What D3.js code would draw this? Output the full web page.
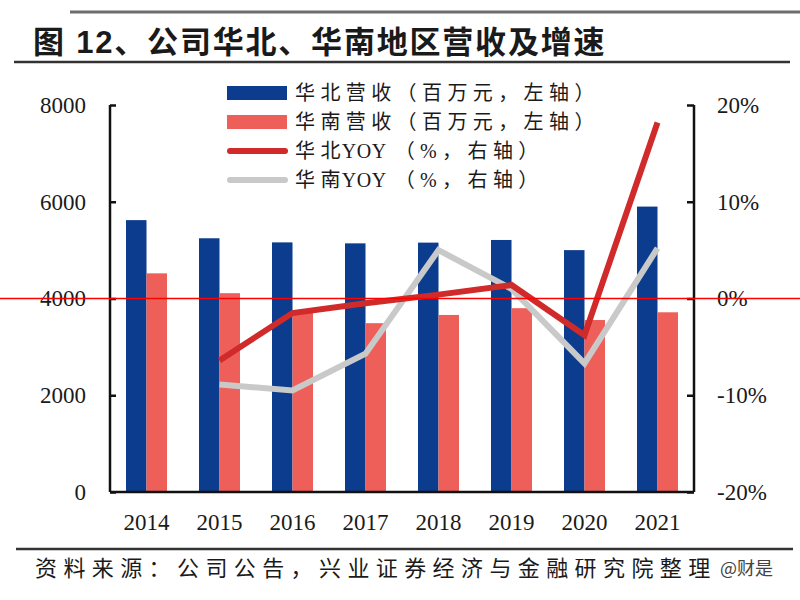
<!DOCTYPE html>
<html>
<head>
<meta charset="utf-8">
<script src="https://cdn.jsdelivr.net/npm/d3@7"></script>
<style>
  html, body { margin: 0; padding: 0; background: #fff; }
  svg { display: block; }
</style>
</head>
<body>
<svg id="chart" width="800" height="600"></svg>
<script>
// ---- data ----
const years = ["2014", "2015", "2016", "2017", "2018", "2019", "2020", "2021"];
const northRevenue = [5620, 5245, 5160, 5140, 5155, 5210, 5000, 5900];
const southRevenue = [4520, 4110, 3700, 3490, 3660, 3800, 3555, 3715];
const northYoY = [null, -6.4, -1.5, -0.5, 0.4, 1.4, -3.8, 18.2];
const southYoY = [null, -8.9, -9.5, -5.7, 5.0, 1.0, -6.7, 5.2];
const leftTicks = [0, 2000, 4000, 6000, 8000];
const rightTicks = [-20, -10, 0, 10, 20];
// legend labels split into [CJK prefix, latin part, CJK suffix]
const seriesNames = [
  ["华北营收", "", "（百万元，左轴）"],
  ["华南营收", "", "（百万元，左轴）"],
  ["华北", "YOY", "（%，右轴）"],
  ["华南", "YOY", "（%，右轴）"]
];
const titleText = "图 12、公司华北、华南地区营收及增速";
const sourceText = "资料来源：公司公告，兴业证券经济与金融研究院整理";
const watermarkText = "@财是";

// ---- styles ----
const C_BLUE = "#0b3c8d";
const C_SALMON = "#ee5f5a";
const C_RED = "#d02a2b";
const C_GRAY = "#c9c9c9";
const SERIF = "'Liberation Serif', 'Times New Roman', 'Noto Sans CJK SC', serif";
const CJK = "'Noto Sans CJK SC', sans-serif";

const svg = d3.select("#chart");

// header rules and title
svg.append("line").attr("x1", 70).attr("x2", 800).attr("y1", 12).attr("y2", 12)
  .attr("stroke", "#6d6d6d").attr("stroke-width", 3);
svg.append("line").attr("x1", 14).attr("x2", 790).attr("y1", 62).attr("y2", 62)
  .attr("stroke", "#333").attr("stroke-width", 2.5);
svg.append("text").attr("x", 33).attr("y", 53)
  .attr("font-family", "'Liberation Sans', 'Noto Sans CJK SC', sans-serif")
  .attr("font-weight", "bold").attr("font-size", 31).attr("letter-spacing", 1.8)
  .attr("fill", "#1a1a1a").text(titleText);

// plot area
const L = 110, R = 694, T = 105, B = 492;

const x = d3.scaleBand().domain(years).range([L, R]).paddingInner(0).paddingOuter(0);
const yL = d3.scaleLinear().domain([0, 8000]).range([B, T]);
const yR = d3.scaleLinear().domain([-20, 20]).range([B, T]);
const barW = 20.5;

// bars
const g = svg.append("g");
g.selectAll("rect.north").data(years).join("rect")
  .attr("class", "north")
  .attr("x", d => x(d) + x.bandwidth() / 2 - barW)
  .attr("y", (d, i) => yL(northRevenue[i]))
  .attr("width", barW)
  .attr("height", (d, i) => B - yL(northRevenue[i]))
  .attr("fill", C_BLUE);
g.selectAll("rect.south").data(years).join("rect")
  .attr("class", "south")
  .attr("x", d => x(d) + x.bandwidth() / 2)
  .attr("y", (d, i) => yL(southRevenue[i]))
  .attr("width", barW)
  .attr("height", (d, i) => B - yL(southRevenue[i]))
  .attr("fill", C_SALMON);

// lines
const line = d3.line()
  .defined(d => d.v !== null)
  .x(d => x(d.year) + x.bandwidth() / 2)
  .y(d => yR(d.v));
const southPts = years.map((y, i) => ({ year: y, v: southYoY[i] }));
const northPts = years.map((y, i) => ({ year: y, v: northYoY[i] }));
g.append("path").datum(southPts).attr("d", line)
  .attr("fill", "none").attr("stroke", C_GRAY).attr("stroke-width", 6)
  .attr("stroke-linejoin", "miter");
g.append("path").datum(northPts).attr("d", line)
  .attr("fill", "none").attr("stroke", C_RED).attr("stroke-width", 6)
  .attr("stroke-linejoin", "miter");

// axes
const axisL = d3.axisLeft(yL).tickValues(leftTicks).tickSize(-6).tickPadding(24).tickFormat(d3.format("d"));
const axisR = d3.axisRight(yR).tickValues(rightTicks).tickSize(-7).tickPadding(30).tickFormat(d => d + "%");
const axisB = d3.axisBottom(x).tickSize(0).tickPadding(22);

function styleAxis(sel) {
  sel.select(".domain").attr("stroke", "#111").attr("stroke-width", 2.5);
  sel.selectAll(".tick line").attr("stroke", "#111").attr("stroke-width", 2.5);
  sel.selectAll("text").attr("font-family", SERIF).attr("font-size", 23).attr("fill", "#1a1a1a");
}
const gL = svg.append("g").attr("transform", `translate(${L},0)`).call(axisL).call(styleAxis);
gL.select(".domain").attr("d", `M0,${T}V${B}`);
const gR = svg.append("g").attr("transform", `translate(${R},0)`).call(axisR).call(styleAxis);
gR.select(".domain").attr("d", `M0,${T}V${B}`);
gR.selectAll(".tick text").attr("text-anchor", "start").attr("x", 23);
const gB = svg.append("g").attr("transform", `translate(0,${B})`).call(axisB).call(styleAxis);
gB.select(".domain").attr("d", `M${L},0H${R}`);

// legend
const legend = svg.append("g");
const rowY = [93, 122, 151, 180];
seriesNames.forEach((parts, i) => {
  const yy = rowY[i];
  if (i < 2) {
    legend.append("rect").attr("x", 227).attr("y", yy - 7).attr("width", 60).attr("height", 14)
      .attr("fill", i === 0 ? C_BLUE : C_SALMON);
  } else {
    legend.append("line").attr("x1", 230).attr("x2", 285).attr("y1", yy).attr("y2", yy)
      .attr("stroke", i === 2 ? C_RED : C_GRAY).attr("stroke-width", 6).attr("stroke-linecap", "round");
  }
  const t = legend.append("text").attr("x", 295).attr("y", yy).attr("dy", "0.35em")
    .attr("font-family", SERIF).attr("font-size", 20).attr("fill", "#1a1a1a");
  t.append("tspan").attr("letter-spacing", 5.4).text(parts[0]);
  if (parts[1]) t.append("tspan").attr("letter-spacing", 0.5).attr("dx", -4).text(parts[1]);
  t.append("tspan").attr("letter-spacing", 5.4).attr("dx", parts[1] ? 8 : 0).text(parts[2]);
});

// footer
svg.append("line").attr("x1", 16).attr("x2", 793).attr("y1", 549).attr("y2", 549)
  .attr("stroke", "#333").attr("stroke-width", 2.5);
svg.append("text").attr("x", 35).attr("y", 576)
  .attr("font-family", CJK).attr("font-size", 22).attr("letter-spacing", 6.4)
  .attr("fill", "#1a1a1a").text(sourceText);
svg.append("text").attr("x", 720).attr("y", 575)
  .attr("font-family", CJK).attr("font-size", 18)
  .attr("fill", "#444").text(watermarkText);

// thin red guide line across the picture
svg.append("line").attr("x1", 0).attr("x2", 800).attr("y1", yR(0)).attr("y2", yR(0))
  .attr("stroke", "#ff0000").attr("stroke-width", 1.5);
</script>
</body>
</html>
